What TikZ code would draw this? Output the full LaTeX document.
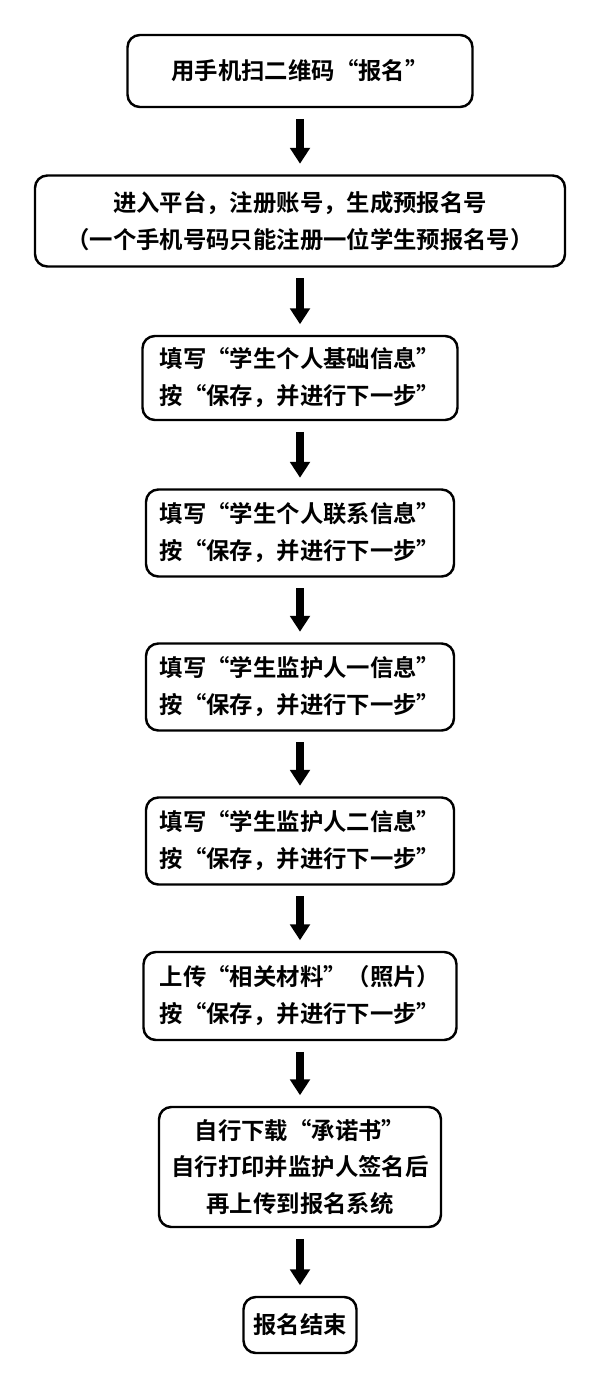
\documentclass[tikz,border=0pt]{standalone}
\usepackage{fontspec}
\newfontfamily\cjk[BoldFont={Noto Sans CJK SC Bold}]{Noto Sans CJK SC}
\usetikzlibrary{arrows.meta}
\begin{document}
\begin{tikzpicture}[x=0.02cm,y=-0.02cm,
	stepbox/.style={draw, line width=1.4pt, rounded corners=7pt, align=center,
		font=\cjk\bfseries\fontsize{13.3}{21}\selectfont, inner sep=0pt},
	flow/.style={-{Triangle[length=9pt,width=11pt]}, line width=4pt, shorten <=6pt, shorten >=6pt}]
	\useasboundingbox (0,0) rectangle (600,1383);
	\node[stepbox, minimum width=345*0.02cm, minimum height=72*0.02cm] (reg) at (300,71) {用手机扫二维码“报名”};
	\node[stepbox, minimum width=530*0.02cm, minimum height=91*0.02cm] (plat) at (300,221) {进入平台，注册账号，生成预报名号\\（一个手机号码只能注册一位学生预报名号）};
	\node[stepbox, minimum width=315*0.02cm, minimum height=84*0.02cm] (base) at (300,378) {填写“学生个人基础信息”\\按“保存，并进行下一步”};
	\node[stepbox, minimum width=308*0.02cm, minimum height=87*0.02cm] (cont) at (300,533) {填写“学生个人联系信息”\\按“保存，并进行下一步”};
	\node[stepbox, minimum width=308*0.02cm, minimum height=87*0.02cm] (gdone) at (300,687) {填写“学生监护人一信息”\\按“保存，并进行下一步”};
	\node[stepbox, minimum width=308*0.02cm, minimum height=87*0.02cm] (gdtwo) at (300,841) {填写“学生监护人二信息”\\按“保存，并进行下一步”};
	\node[stepbox, minimum width=313*0.02cm, minimum height=88*0.02cm] (upl) at (300,996) {上传“相关材料”（照片）\\按“保存，并进行下一步”};
	\node[stepbox, minimum width=282*0.02cm, minimum height=120*0.02cm] (prom) at (300,1167) {自行下载“承诺书”\\自行打印并监护人签名后\\再上传到报名系统};
	\node[stepbox, minimum width=113*0.02cm, minimum height=56*0.02cm] (fin) at (300,1325) {报名结束};
	% arrows between steps
	\foreach \a/\b in {reg/plat, plat/base, base/cont, cont/gdone, gdone/gdtwo, gdtwo/upl, upl/prom, prom/fin}
		\draw[flow] (\a.south) -- (\b.north);
\end{tikzpicture}
\end{document}
